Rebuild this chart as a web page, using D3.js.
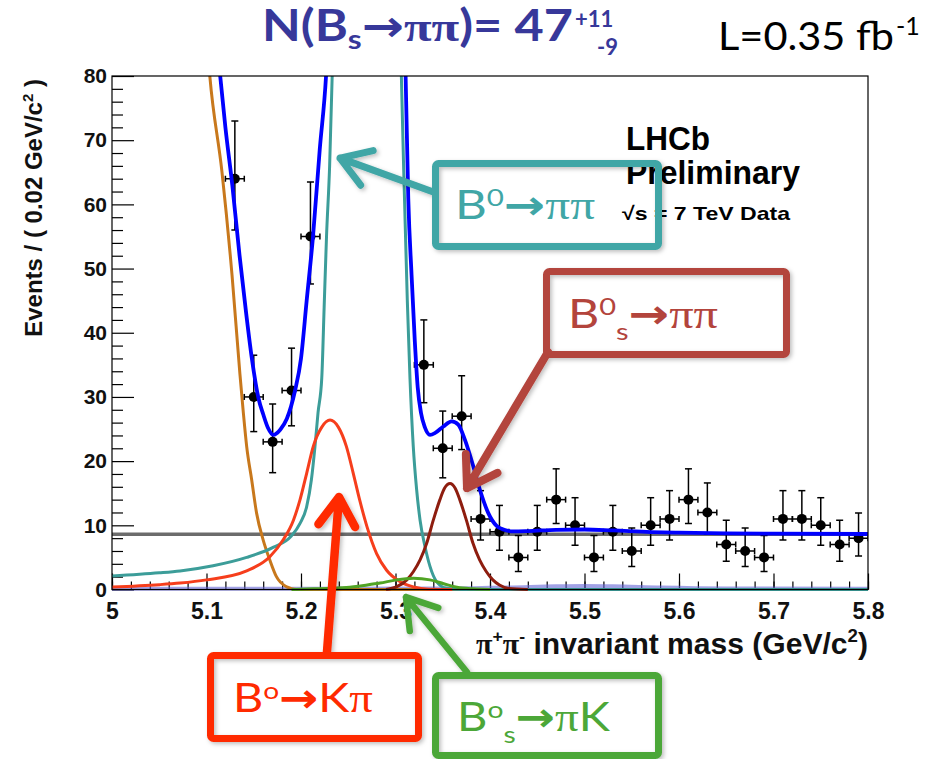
<!DOCTYPE html>
<html>
<head>
<meta charset="utf-8">
<script src="https://cdn.jsdelivr.net/npm/d3@7"></script>
<style>
  body { margin: 0; background: #fff; }
  svg { display: block; }
</style>
</head>
<body>
<svg id="chart" width="933" height="759"></svg>
<script>
// ---- Data: pi+pi- invariant mass, events per 0.02 GeV/c^2 bin ----
const binCenters = [5.13, 5.15, 5.17, 5.19, 5.21, 5.33, 5.35, 5.37, 5.39, 5.41,
                    5.43, 5.45, 5.47, 5.49, 5.51, 5.53, 5.55, 5.57, 5.59, 5.61,
                    5.63, 5.65, 5.67, 5.69, 5.71, 5.73, 5.75, 5.77, 5.79];
const binCounts  = [64, 30, 23, 31, 55, 35, 22, 27, 11, 9,
                    5, 9, 14, 10, 5, 9, 6, 10, 11, 14,
                    12, 7, 6, 5, 11, 11, 10, 7, 8];
// Poisson interval bounds for each bin
const countLow   = [56.0, 24.6, 18.2, 25.5, 47.6, 29.1, 17.4, 21.8, 7.7, 6.1,
                    2.8, 6.1, 10.3, 6.9, 2.8, 6.1, 3.6, 6.9, 7.7, 10.3,
                    8.6, 4.4, 3.6, 2.8, 7.7, 7.7, 6.9, 4.4, 5.2];
const countHigh  = [73.0, 36.5, 28.9, 37.6, 63.5, 42.0, 27.8, 33.3, 15.4, 13.1,
                    8.4, 13.1, 18.8, 14.3, 8.4, 13.1, 9.6, 14.3, 15.4, 18.8,
                    16.6, 10.8, 9.6, 8.4, 15.4, 15.4, 14.3, 10.8, 11.9];
const binHalfWidth = 0.01;

// ---- Fit curves, sampled as [mass, events per bin] ----
const totalFit = [[5.00, 320], [5.08, 150], [5.1145, 80], [5.12, 72], [5.1273, 63],
  [5.135, 52], [5.142, 43], [5.148, 36], [5.155, 29.8], [5.16, 27.3], [5.165, 25.2],
  [5.1707, 24.1], [5.178, 24.9], [5.185, 26.6], [5.1937, 31], [5.2, 36], [5.206, 45],
  [5.2127, 55], [5.2198, 68.5], [5.2265, 80], [5.235, 110], [5.255, 300], [5.279, 500],
  [5.295, 200], [5.306, 100], [5.3107, 80], [5.3135, 61], [5.317, 49], [5.3205, 38.5],
  [5.3235, 31.5], [5.327, 27.5], [5.331, 25.3], [5.3365, 24.1], [5.342, 24.4],
  [5.3506, 25.4], [5.3595, 26.2], [5.3664, 25.7], [5.3735, 23.3], [5.3823, 19.2],
  [5.3894, 15.5], [5.3982, 11.9], [5.407, 9.9], [5.415, 9.3], [5.425, 9.05],
  [5.44, 9.1], [5.47, 9.3], [5.50, 9.35], [5.53, 9.2], [5.57, 8.95], [5.60, 8.85],
  [5.65, 8.75], [5.70, 8.7], [5.80, 8.65]];

const b0PiPi = [[5.00, 2.1], [5.05, 2.6], [5.072, 2.9], [5.107, 3.7], [5.1425, 5.0],
  [5.171, 6.6], [5.189, 8.2], [5.199, 10.3], [5.206, 12.9], [5.211, 17.1],
  [5.2148, 22.3], [5.218, 27.5], [5.222, 33], [5.2245, 44], [5.227, 55], [5.2303, 66],
  [5.233, 80], [5.24, 130], [5.255, 300], [5.279, 520], [5.295, 250], [5.303, 110],
  [5.3062, 80], [5.3097, 60], [5.3125, 45], [5.3153, 33], [5.3188, 22.3],
  [5.3224, 15.5], [5.326, 10.8], [5.3312, 6.7], [5.3365, 3.6], [5.3436, 1.2],
  [5.354, 0.2], [5.37, 0], [5.80, 0]];

const b0KPi = [[5.00, 0.4], [5.05, 0.75], [5.072, 1.0], [5.10, 1.5], [5.1425, 2.9],
  [5.167, 5.1], [5.181, 7.7], [5.192, 10.8], [5.199, 14.0], [5.206, 18.1],
  [5.213, 22.3], [5.222, 25.3], [5.2307, 26.4], [5.2395, 25.3], [5.248, 22.3],
  [5.2553, 18.1], [5.262, 14.0], [5.2698, 9.8], [5.28, 5.6], [5.2906, 3.0],
  [5.305, 1.2], [5.319, 0.4], [5.335, 0.05], [5.36, 0]];

const bsPiPi = [[5.29, 0], [5.301, 0.4], [5.312, 1.5], [5.319, 2.8], [5.326, 4.6],
  [5.333, 7.2], [5.34, 10.8], [5.347, 14.0], [5.352, 15.8], [5.3577, 16.5],
  [5.363, 15.8], [5.368, 14.0], [5.375, 10.8], [5.382, 7.2], [5.389, 4.6],
  [5.396, 2.8], [5.403, 1.5], [5.41, 0.7], [5.42, 0.15], [5.44, 0]];

const bsPiK = [[5.19, 0], [5.213, 0.1], [5.234, 0.2], [5.248, 0.3], [5.27, 0.7],
  [5.2836, 1.0], [5.301, 1.5], [5.319, 1.75], [5.3365, 1.5], [5.351, 0.9],
  [5.365, 0.35], [5.3825, 0.1], [5.40, 0]];

const partialReco = [[5.00, 400], [5.07, 160], [5.09, 110], [5.1035, 80], [5.1164, 65],
  [5.127, 49], [5.1354, 33.5], [5.139, 27.5], [5.1425, 22.3], [5.1478, 17.1],
  [5.153, 11.9], [5.16, 7.7], [5.167, 4.6], [5.174, 2.0], [5.185, 0.4], [5.195, 0],
  [5.80, 0]];

const threeBody = [[5.00, 0.1], [5.20, 0.1], [5.35, 0.15], [5.42, 0.3], [5.47, 0.5],
  [5.50, 0.55], [5.53, 0.5], [5.58, 0.3], [5.65, 0.15], [5.80, 0.1]];

const combinatorial = [[5.00, 8.6], [5.80, 8.6]];

// ---- Axis ticks ----
const xTicks = [5.0, 5.1, 5.2, 5.3, 5.4, 5.5, 5.6, 5.7, 5.8];
const xTickLabels = ["5", "5.1", "5.2", "5.3", "5.4", "5.5", "5.6", "5.7", "5.8"];
const yTicks = [0, 10, 20, 30, 40, 50, 60, 70, 80];

// ---- Layout ----
const W = 933, H = 759;
const frame = { left: 112, right: 868, top: 76, bottom: 589.5 };
const axisFont = "'Liberation Sans', Arial, Helvetica, sans-serif";
const slideFont = "Lato, 'Open Sans', 'DejaVu Sans', sans-serif";
const symbolFont = "'Liberation Serif', 'DejaVu Serif', serif";
const arrowFont = "'DejaVu Sans', sans-serif";

const svg = d3.select("#chart");
svg.append("rect").attr("width", W).attr("height", H).attr("fill", "#fff");

const x = d3.scaleLinear().domain([5.0, 5.8]).range([frame.left, frame.right]);
const y = d3.scaleLinear().domain([0, 80]).range([frame.bottom, frame.top]);

const defs = svg.append("defs");
defs.append("clipPath").attr("id", "plotClip").append("rect")
  .attr("x", frame.left).attr("y", frame.top)
  .attr("width", frame.right - frame.left)
  .attr("height", frame.bottom - frame.top + 4);
const shadow = defs.append("filter").attr("id", "softShadow")
  .attr("x", "-20%").attr("y", "-20%").attr("width", "140%").attr("height", "140%");
shadow.append("feDropShadow").attr("dx", 2).attr("dy", 2)
  .attr("stdDeviation", 2).attr("flood-color", "#000").attr("flood-opacity", 0.25);

// ---- Axes (ticks drawn inside the frame, ROOT style) ----
const yMinorTicks = d3.range(0, 81, 2).filter(v => v % 10 !== 0);
const gyMinor = svg.append("g").attr("transform", `translate(${frame.left},0)`)
  .call(d3.axisLeft(y).tickValues(yMinorTicks).tickSize(-11).tickFormat(""));
const gy = svg.append("g").attr("transform", `translate(${frame.left},0)`)
  .call(d3.axisLeft(y).tickValues(yTicks).tickSize(-22).tickPadding(5).tickFormat(d3.format("d")));

const xMinorTicks = d3.range(0, 41).map(i => 5 + i * 0.02);
const gxMinor = svg.append("g").attr("transform", `translate(0,${frame.bottom})`)
  .call(d3.axisBottom(x).tickValues(xMinorTicks).tickSize(-8).tickFormat(""));
const gx = svg.append("g").attr("transform", `translate(0,${frame.bottom})`)
  .call(d3.axisBottom(x).tickValues(xTicks).tickSize(-16).tickPadding(13)
    .tickFormat((d, i) => xTickLabels[i]));

[gyMinor, gy, gxMinor, gx].forEach(g => {
  g.select(".domain").remove();
  g.selectAll("line").attr("stroke", "#000").attr("stroke-width", 1.2);
});
gy.selectAll("text").attr("font-family", axisFont).attr("font-weight", "bold")
  .attr("font-size", 21).attr("fill", "#111");
gx.selectAll("text").attr("font-family", axisFont).attr("font-weight", "bold")
  .attr("font-size", 23).attr("fill", "#111");

// ---- Fit components ----
const line = d3.line().x(d => x(d[0])).y(d => y(d[1])).curve(d3.curveMonotoneX);
const plot = svg.append("g").attr("clip-path", "url(#plotClip)");

const components = [
  { data: combinatorial, color: "#6c6c6c", width: 3.5, opacity: 1 },
  { data: threeBody,     color: "#6464d6", width: 4,   opacity: 0.6 },
  { data: partialReco,   color: "#c8781c", width: 3,   opacity: 1 },
  { data: b0PiPi,        color: "#3c9d99", width: 3,   opacity: 1 },
  { data: b0KPi,         color: "#f63e1c", width: 3,   opacity: 1 },
  { data: bsPiPi,        color: "#8e1d0f", width: 3,   opacity: 1 },
  { data: bsPiK,         color: "#50a424", width: 3,   opacity: 1 }
];
plot.selectAll("path.component").data(components).join("path")
  .attr("class", "component")
  .attr("d", c => line(c.data))
  .attr("fill", "none")
  .attr("stroke", c => c.color)
  .attr("stroke-width", c => c.width)
  .attr("stroke-opacity", c => c.opacity);

// ---- Data points with error bars ----
const points = binCenters.map((m, i) => ({ m, n: binCounts[i], lo: countLow[i], hi: countHigh[i] }));
const dataG = plot.append("g").attr("stroke", "#000").attr("stroke-width", 1.5);
const pt = dataG.selectAll("g.pt").data(points).join("g").attr("class", "pt");
pt.append("line")
  .attr("x1", d => x(d.m)).attr("x2", d => x(d.m))
  .attr("y1", d => y(d.lo)).attr("y2", d => y(d.hi));
pt.append("line")
  .attr("x1", d => x(d.m) - 3.5).attr("x2", d => x(d.m) + 3.5)
  .attr("y1", d => y(d.lo)).attr("y2", d => y(d.lo));
pt.append("line")
  .attr("x1", d => x(d.m) - 3.5).attr("x2", d => x(d.m) + 3.5)
  .attr("y1", d => y(d.hi)).attr("y2", d => y(d.hi));
pt.append("line")
  .attr("x1", d => x(d.m - binHalfWidth)).attr("x2", d => x(d.m + binHalfWidth))
  .attr("y1", d => y(d.n)).attr("y2", d => y(d.n));
pt.append("line")
  .attr("x1", d => x(d.m - binHalfWidth)).attr("x2", d => x(d.m - binHalfWidth))
  .attr("y1", d => y(d.n) - 3).attr("y2", d => y(d.n) + 3);
pt.append("line")
  .attr("x1", d => x(d.m + binHalfWidth)).attr("x2", d => x(d.m + binHalfWidth))
  .attr("y1", d => y(d.n) - 3).attr("y2", d => y(d.n) + 3);
pt.append("circle")
  .attr("cx", d => x(d.m)).attr("cy", d => y(d.n)).attr("r", 5)
  .attr("fill", "#000").attr("stroke", "none");

// ---- Total fit ----
plot.append("path").attr("d", line(totalFit))
  .attr("fill", "none").attr("stroke", "#0000ff").attr("stroke-width", 3.8);

// ---- Frame ----
svg.append("rect")
  .attr("x", frame.left).attr("y", frame.top)
  .attr("width", frame.right - frame.left).attr("height", frame.bottom - frame.top)
  .attr("fill", "none").attr("stroke", "#000").attr("stroke-width", 1.2);

// ---- Axis titles ----
const yTitle = svg.append("text")
  .attr("transform", `translate(42,${frame.top + 3}) rotate(-90)`)
  .attr("text-anchor", "end")
  .attr("font-family", axisFont).attr("font-weight", "bold").attr("font-size", 24)
  .attr("fill", "#111");
yTitle.append("tspan").text("Events / ( 0.02 GeV/c");
yTitle.append("tspan").attr("dy", -9).attr("font-size", 15).text("2");
yTitle.append("tspan").attr("dy", 9).text(" )");

const xTitle = svg.append("text")
  .attr("x", 476).attr("y", 654)
  .attr("font-family", axisFont).attr("font-weight", "bold").attr("font-size", 29)
  .attr("fill", "#111")
  .attr("textLength", 392).attr("lengthAdjust", "spacingAndGlyphs");
xTitle.append("tspan").attr("font-family", symbolFont).text("π");
xTitle.append("tspan").attr("dy", -12).attr("font-size", 17).text("+");
xTitle.append("tspan").attr("dy", 12).attr("font-family", symbolFont).text("π");
xTitle.append("tspan").attr("dy", -12).attr("font-size", 17).text("-");
xTitle.append("tspan").attr("dy", 12).text(" invariant mass (GeV/c");
xTitle.append("tspan").attr("dy", -12).attr("font-size", 18).text("2");
xTitle.append("tspan").attr("dy", 12).text(")");

// ---- Experiment label ----
const exp = svg.append("g").attr("font-family", axisFont).attr("font-weight", "bold").attr("fill", "#000");
exp.append("text").attr("x", 626).attr("y", 149.5).attr("font-size", 33)
  .attr("textLength", 84).attr("lengthAdjust", "spacingAndGlyphs").text("LHCb");
exp.append("text").attr("x", 626).attr("y", 183.5).attr("font-size", 33)
  .attr("textLength", 174).attr("lengthAdjust", "spacingAndGlyphs").text("Preliminary");
exp.append("text").attr("x", 622).attr("y", 220).attr("font-size", 19)
  .attr("textLength", 168).attr("lengthAdjust", "spacingAndGlyphs").text("√s = 7 TeV Data");

// ---- Headline ----
const headColor = "#37389a";
const head = svg.append("text").attr("x", 262).attr("y", 41)
  .attr("font-family", slideFont).attr("font-weight", "bold").attr("font-size", 43)
  .attr("fill", headColor)
  .attr("textLength", 311).attr("lengthAdjust", "spacingAndGlyphs");
head.append("tspan").text("N(B");
head.append("tspan").attr("dy", 8).attr("font-size", 27).text("s");
head.append("tspan").attr("dy", -8).attr("font-family", arrowFont).text("→");
head.append("tspan").attr("font-family", symbolFont).text("ππ");
head.append("tspan").text(")= 47");
svg.append("text").attr("x", 575).attr("y", 27)
  .attr("font-family", slideFont).attr("font-weight", "bold").attr("font-size", 22)
  .attr("fill", headColor).text("+11");
svg.append("text").attr("x", 597).attr("y", 55)
  .attr("font-family", slideFont).attr("font-weight", "bold").attr("font-size", 22)
  .attr("fill", headColor).text("-9");

svg.append("text").attr("x", 718).attr("y", 50)
  .attr("font-family", slideFont).attr("font-size", 39).attr("fill", "#000")
  .attr("textLength", 176).attr("lengthAdjust", "spacingAndGlyphs").text("L=0.35 fb");
svg.append("text").attr("x", 896).attr("y", 35)
  .attr("font-family", slideFont).attr("font-size", 25).attr("fill", "#000").text("-1");

// ---- Annotation call-outs ----
const notes = [
  { color: "#40a6a6", box: [435.5, 163.5, 223, 83], textX: 455, textY: 219, textW: 140,
    parts: [["B"], ["0", "sup"], ["→", "arrow"], ["ππ", "sym"]],
    from: [5.3386, 62], to: [5.2413, 67.2], width: 7 },
  { color: "#b3443c", box: [546.5, 271.5, 240, 83], textX: 568, textY: 328, textW: 150,
    parts: [["B"], ["0", "sup"], ["s", "sub"], ["→", "arrow"], ["ππ", "sym"]],
    from: [5.4614, 37], to: [5.3757, 15.8], width: 8 },
  { color: "#ff2a00", box: [210.5, 655.5, 208, 83], textX: 233, textY: 712, textW: 140,
    parts: [["B"], ["o", "sup"], ["→", "arrow"], ["K"], ["π", "sym"]],
    from: [5.2275, -9.7], to: [5.2402, 14.4], width: 8.5 },
  { color: "#4ca738", box: [435.5, 675.5, 223, 80], textX: 457, textY: 731, textW: 153,
    parts: [["B"], ["o", "sup"], ["s", "sub"], ["→", "arrow"], ["π", "sym"], ["K"]],
    from: [5.3757, -12.9], to: [5.3111, -1.2], width: 6.5 }
];

const noteG = svg.append("g").attr("filter", "url(#softShadow)");

function arrowPath(x1, y1, x2, y2, len) {
  const ang = Math.atan2(y2 - y1, x2 - x1), spread = Math.PI / 5.5;
  const b1 = [x2 - len * Math.cos(ang - spread), y2 - len * Math.sin(ang - spread)];
  const b2 = [x2 - len * Math.cos(ang + spread), y2 - len * Math.sin(ang + spread)];
  return `M${x1},${y1}L${x2},${y2}M${b1[0]},${b1[1]}L${x2},${y2}L${b2[0]},${b2[1]}`;
}

notes.forEach(n => {
  noteG.append("path")
    .attr("d", arrowPath(x(n.from[0]), y(n.from[1]), x(n.to[0]), y(n.to[1]), 34))
    .attr("fill", "none").attr("stroke", n.color).attr("stroke-width", n.width)
    .attr("stroke-linejoin", "round").attr("stroke-linecap", "round");
  noteG.append("rect")
    .attr("x", n.box[0]).attr("y", n.box[1]).attr("width", n.box[2]).attr("height", n.box[3])
    .attr("rx", 3).attr("fill", "none").attr("stroke", n.color).attr("stroke-width", 7);
  const t = svg.append("text").attr("x", n.textX).attr("y", n.textY)
    .attr("font-family", slideFont).attr("font-size", 40).attr("fill", n.color)
    .attr("textLength", n.textW).attr("lengthAdjust", "spacingAndGlyphs");
  let shift = 0;
  n.parts.forEach(([s, kind]) => {
    const ts = t.append("tspan").text(s);
    let target = 0;
    if (kind === "sup") { target = -13; ts.attr("font-size", 24); }
    if (kind === "sub") { target = 12; ts.attr("font-size", 24); }
    if (kind === "arrow") ts.attr("font-family", arrowFont).attr("font-weight", "bold");
    if (kind === "sym") ts.attr("font-family", symbolFont);
    ts.attr("dy", target - shift);
    shift = target;
  });
});
</script>
</body>
</html>
